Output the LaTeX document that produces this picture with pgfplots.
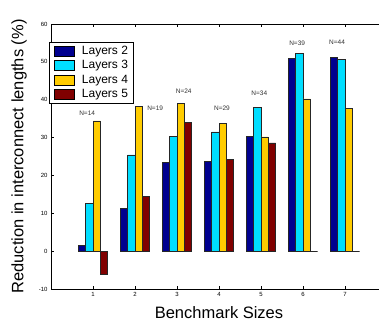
\documentclass[border=0pt]{standalone}
\usepackage{pgfplots}
\pgfplotsset{compat=1.18}
\usepackage{fontspec}
\setmainfont{Liberation Sans}
\definecolor{cB}{RGB}{0,0,143}
\definecolor{cC}{RGB}{0,222,255}
\definecolor{cY}{RGB}{255,204,0}
\definecolor{cR}{RGB}{128,0,0}
\begin{document}
\begin{tikzpicture}
\begin{axis}[
  scale only axis, width=336pt, height=265pt,
  xmin=0, xmax=8, ymin=-10, ymax=60,
  ybar=0pt, bar width=7.35pt,
  xtick={1,2,3,4,5,6,7}, ytick={-10,0,10,20,30,40,50,60},
  tick align=inside, major tick length=3pt,
  xtick pos=both, ytick pos=left,
  axis line style={line width=0.9pt},
  tick style={line width=0.6pt, black},
  tick label style={font=\fontsize{6}{7}\selectfont, /pgf/number format/assume math mode=true},
  xlabel={Benchmark Sizes},
  ylabel={Reduction in interconnect lengths (\%)},
  label style={font=\fontsize{16.5}{19}\selectfont},
  xlabel style={at={(axis description cs:0.5,-0.0906)}, anchor=center},
  ylabel style={at={(axis description cs:-0.0952,0.5)}, anchor=center},
  legend style={at={(axis description cs:-0.006,0.932)}, anchor=north west,
    font=\fontsize{12}{14}\selectfont, draw=black, line width=0.9pt,
    inner xsep=4pt, inner ysep=2pt, row sep=1pt,
    nodes={inner sep=1pt, text height=8.8pt, text depth=2.6pt}},
  legend cell align=left,
  legend image code/.code={\draw[#1,draw=black,line width=0.4pt] (1pt,-5pt) rectangle (21pt,5pt);
    \path (0pt,0pt) (27pt,0pt);},
  every axis plot/.append style={draw=black!85, line width=0.5pt},
]
\addplot[fill=cB] coordinates {(1,1.6) (2,11.3) (3,23.5) (4,23.8) (5,30.3) (6,51.0) (7,51.2)};
\addplot[fill=cC] coordinates {(1,12.7) (2,25.4) (3,30.3) (4,31.5) (5,37.9) (6,52.2) (7,50.7)};
\addplot[fill=cY] coordinates {(1,34.4) (2,38.3) (3,39.0) (4,33.7) (5,30.2) (6,40.2) (7,37.8)};
\addplot[fill=cR] coordinates {(1,-6.0) (2,14.5) (3,34.1) (4,24.2) (5,28.6) (6,0) (7,0)};
\legend{Layers 2, Layers 3, Layers 4, Layers 5\hspace{4pt}}
\begin{scope}[every node/.style={font=\fontsize{6.5}{7.5}\selectfont, text=black!80}]
\node at (axis cs:0.86,36.5) {N=14};
\node at (axis cs:2.48,37.8) {N=19};
\node at (axis cs:3.16,42.3) {N=24};
\node at (axis cs:4.07,37.7) {N=29};
\node at (axis cs:4.96,41.6) {N=34};
\node at (axis cs:5.86,54.9) {N=39};
\node at (axis cs:6.81,55.1) {N=44};
\end{scope}
\coordinate (sw) at (rel axis cs:0,0);
\coordinate (ne) at (rel axis cs:1,1);
\end{axis}
\pgfresetboundingbox
\path[use as bounding box] ([xshift=-51pt,yshift=-36pt]sw) rectangle ([xshift=-8pt,yshift=24pt]ne);
\end{tikzpicture}
\end{document}
